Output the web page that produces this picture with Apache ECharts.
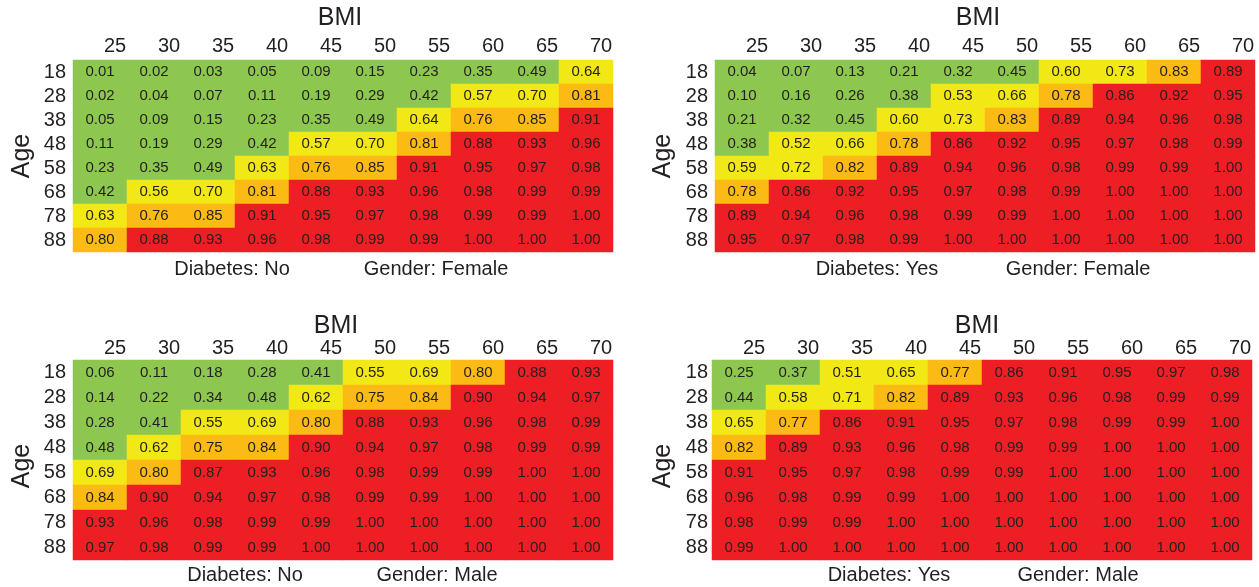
<!DOCTYPE html>
<html>
<head>
<meta charset="utf-8">
<script src="https://cdn.jsdelivr.net/npm/echarts@6/dist/echarts.min.js"></script>
<style>
html,body{margin:0;padding:0;background:#fff;}
#chart{width:1259px;height:587px;}
</style>
</head>
<body>
<div id="chart"></div>
<script>
// ---- Data ----
const bmiLabels = ['25','30','35','40','45','50','55','60','65','70'];
const ageLabels = ['18','28','38','48','58','68','78','88'];

const femaleNo = [
  [0.01,0.02,0.03,0.05,0.09,0.15,0.23,0.35,0.49,0.64],
  [0.02,0.04,0.07,0.11,0.19,0.29,0.42,0.57,0.70,0.81],
  [0.05,0.09,0.15,0.23,0.35,0.49,0.64,0.76,0.85,0.91],
  [0.11,0.19,0.29,0.42,0.57,0.70,0.81,0.88,0.93,0.96],
  [0.23,0.35,0.49,0.63,0.76,0.85,0.91,0.95,0.97,0.98],
  [0.42,0.56,0.70,0.81,0.88,0.93,0.96,0.98,0.99,0.99],
  [0.63,0.76,0.85,0.91,0.95,0.97,0.98,0.99,0.99,1.00],
  [0.80,0.88,0.93,0.96,0.98,0.99,0.99,1.00,1.00,1.00]
];
const femaleYes = [
  [0.04,0.07,0.13,0.21,0.32,0.45,0.60,0.73,0.83,0.89],
  [0.10,0.16,0.26,0.38,0.53,0.66,0.78,0.86,0.92,0.95],
  [0.21,0.32,0.45,0.60,0.73,0.83,0.89,0.94,0.96,0.98],
  [0.38,0.52,0.66,0.78,0.86,0.92,0.95,0.97,0.98,0.99],
  [0.59,0.72,0.82,0.89,0.94,0.96,0.98,0.99,0.99,1.00],
  [0.78,0.86,0.92,0.95,0.97,0.98,0.99,1.00,1.00,1.00],
  [0.89,0.94,0.96,0.98,0.99,0.99,1.00,1.00,1.00,1.00],
  [0.95,0.97,0.98,0.99,1.00,1.00,1.00,1.00,1.00,1.00]
];
const maleNo = [
  [0.06,0.11,0.18,0.28,0.41,0.55,0.69,0.80,0.88,0.93],
  [0.14,0.22,0.34,0.48,0.62,0.75,0.84,0.90,0.94,0.97],
  [0.28,0.41,0.55,0.69,0.80,0.88,0.93,0.96,0.98,0.99],
  [0.48,0.62,0.75,0.84,0.90,0.94,0.97,0.98,0.99,0.99],
  [0.69,0.80,0.87,0.93,0.96,0.98,0.99,0.99,1.00,1.00],
  [0.84,0.90,0.94,0.97,0.98,0.99,0.99,1.00,1.00,1.00],
  [0.93,0.96,0.98,0.99,0.99,1.00,1.00,1.00,1.00,1.00],
  [0.97,0.98,0.99,0.99,1.00,1.00,1.00,1.00,1.00,1.00]
];
const maleYes = [
  [0.25,0.37,0.51,0.65,0.77,0.86,0.91,0.95,0.97,0.98],
  [0.44,0.58,0.71,0.82,0.89,0.93,0.96,0.98,0.99,0.99],
  [0.65,0.77,0.86,0.91,0.95,0.97,0.98,0.99,0.99,1.00],
  [0.82,0.89,0.93,0.96,0.98,0.99,0.99,1.00,1.00,1.00],
  [0.91,0.95,0.97,0.98,0.99,0.99,1.00,1.00,1.00,1.00],
  [0.96,0.98,0.99,0.99,1.00,1.00,1.00,1.00,1.00,1.00],
  [0.98,0.99,0.99,1.00,1.00,1.00,1.00,1.00,1.00,1.00],
  [0.99,1.00,1.00,1.00,1.00,1.00,1.00,1.00,1.00,1.00]
];
const panelData = [femaleNo, femaleYes, maleNo, maleYes];
const diabetesText = ['Diabetes: No','Diabetes: Yes','Diabetes: No','Diabetes: Yes'];
const genderText = ['Gender: Female','Gender: Female','Gender: Male','Gender: Male'];

// ---- Layout ----
const FONT = '"Liberation Sans", Arial, Helvetica, sans-serif';
const TXT = '#231f20';
const grids = [
  {left:73, top:60, width:540, height:192},
  {left:715, top:60, width:540, height:192},
  {left:73, top:360, width:540, height:200},
  {left:712, top:360, width:540, height:200}
];
const xLabelMargin = [4,4,2,2];
const yLabelMargin = [7,7,7,4];
const bmiPos = [[340,18],[978,18],[336,326],[977,326]];
const agePos = [[22,156],[663,156],[22,466],[663,466]];
const diabPos = [[232,269],[877,269],[245,575],[889,575]];
const genPos = [[436,269],[1078,269],[437,575],[1078,575]];

const xAxes = [], yAxes = [], series = [], graphics = [];
panelData.forEach((mat, p) => {
  xAxes.push({
    type:'category', gridIndex:p, data:bmiLabels, position:'top',
    axisLine:{show:false}, axisTick:{show:false}, splitLine:{show:false},
    axisLabel:{interval:0, fontSize:20, color:TXT, fontFamily:FONT, margin:xLabelMargin[p], padding:[0,0,0,30]}
  });
  yAxes.push({
    type:'category', gridIndex:p, data:ageLabels, inverse:true,
    axisLine:{show:false}, axisTick:{show:false}, splitLine:{show:false},
    axisLabel:{interval:0, fontSize:20, color:TXT, fontFamily:FONT, margin:yLabelMargin[p]}
  });
  const d = [];
  mat.forEach((row, r) => row.forEach((v, c) => d.push([c, r, v])));
  series.push({
    type:'heatmap', xAxisIndex:p, yAxisIndex:p, data:d,
    itemStyle:{borderWidth:0},
    label:{show:true, color:TXT, fontSize:15, fontFamily:FONT,
      formatter: (prm) => prm.value[2].toFixed(2)},
    emphasis:{disabled:true}
  });
  const t = (x, y, text, size, rot) => ({
    type:'text', x, y, rotation: rot || 0,
    style:{text, fontSize:size, fontFamily:FONT, fill:TXT, align:'center', verticalAlign:'middle'}
  });
  graphics.push(t(bmiPos[p][0], bmiPos[p][1], 'BMI', 25));
  graphics.push(t(agePos[p][0], agePos[p][1], 'Age', 25, Math.PI/2));
  graphics.push(t(diabPos[p][0], diabPos[p][1], diabetesText[p], 20));
  graphics.push(t(genPos[p][0], genPos[p][1], genderText[p], 20));
});

const chart = echarts.init(document.getElementById('chart'), null, {renderer:'canvas'});
chart.setOption({
  animation:false,
  backgroundColor:'#ffffff',
  grid: grids,
  xAxis: xAxes,
  yAxis: yAxes,
  visualMap: {
    type:'piecewise', show:false, dimension:2, seriesIndex:[0,1,2,3],
    pieces:[
      {gte:0, lt:0.5, color:'#8dc750'},
      {gte:0.5, lt:0.745, color:'#f2e815'},
      {gte:0.745, lt:0.855, color:'#fbba14'},
      {gte:0.855, lte:1.01, color:'#ed1f24'}
    ]
  },
  graphic: graphics,
  series: series
});
</script>
</body>
</html>
